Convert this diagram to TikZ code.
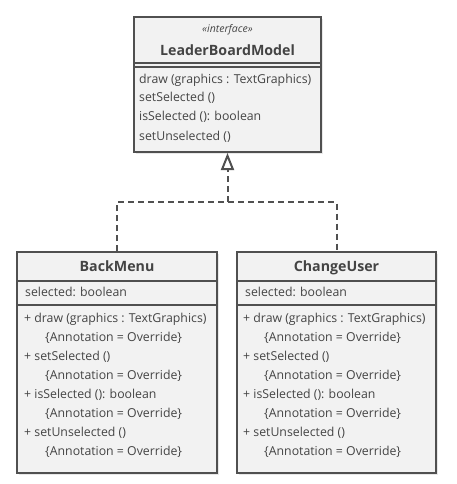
\documentclass[tikz,border=0pt]{standalone}
\usepackage{fontspec}
\setmainfont{Open Sans}
\usetikzlibrary{arrows.meta,shadows}
\definecolor{boxfill}{HTML}{F2F2F2}
\definecolor{boxline}{HTML}{505050}
\definecolor{txt}{HTML}{444444}
\newcommand\mfont{\fontsize{12.3}{14}\selectfont}
\newcommand\sfont{\fontsize{10.5}{12}\selectfont}
\newcommand\bfont{\fontsize{14.2}{16}\selectfont\bfseries}
\begin{document}
\begin{tikzpicture}[x=1pt,y=-1pt,
  umlbox/.style={draw=boxline, line width=2pt, fill=boxfill, rectangle, inner sep=0pt,
    drop shadow={opacity=0.18, shadow xshift=2pt, shadow yshift=-2pt}},
  sep/.style={draw=boxline, line width=1.6pt},
  t/.style={anchor=base west, inner sep=0pt, text=txt, font=\mfont},
  ttl/.style={anchor=base, inner sep=0pt, text=txt, font=\bfont},
  dep/.style={draw=boxline, line width=2pt, dash pattern=on 6pt off 4pt}]
\useasboundingbox (0,0) rectangle (456,484);
% boxes
\node[umlbox, minimum width=187pt, minimum height=135pt] (iface) at (227.5,84.5) {};
\node[umlbox, minimum width=200pt, minimum height=221pt] (back) at (117,362.5) {};
\node[umlbox, minimum width=199pt, minimum height=221pt] (change) at (336.5,362.5) {};
% interface compartments
\draw[sep] (iface.west |- 0,63) -- (iface.east |- 0,63);
\draw[sep] (iface.west |- 0,67) -- (iface.east |- 0,67);
\node[anchor=base, inner sep=0pt, text=txt, font=\sfont\itshape] (stereo) at (227.5,33) {«interface»};
\node[ttl] (ifname) at (227.5,55.5) {LeaderBoardModel};
\node[t] (im1) at (139,83.5) {draw (graphics : TextGraphics)};
\node[t] (im2) at (139,102) {setSelected ()};
\node[t] (im3) at (139,121) {isSelected (): boolean};
\node[t] (im4) at (139,140) {setUnselected ()};
% BackMenu
\draw[sep] (back.west |- 0,281) -- (back.east |- 0,281);
\draw[sep] (back.west |- 0,305) -- (back.east |- 0,305);
\node[ttl] (bname) at (117,271) {BackMenu};
\node[t] (ba) at (25,296.5) {selected: boolean};
\node[t] (bm1) at (24,322) {+ draw (graphics : TextGraphics)};
\node[t] (bn1) at (45,341) {\{Annotation = Override\}};
\node[t] (bm2) at (24,360) {+ setSelected ()};
\node[t] (bn2) at (45,379) {\{Annotation = Override\}};
\node[t] (bm3) at (24,398) {+ isSelected (): boolean};
\node[t] (bn3) at (45,417) {\{Annotation = Override\}};
\node[t] (bm4) at (24,436) {+ setUnselected ()};
\node[t] (bn4) at (45,455) {\{Annotation = Override\}};
% ChangeUser
\draw[sep] (change.west |- 0,281) -- (change.east |- 0,281);
\draw[sep] (change.west |- 0,305) -- (change.east |- 0,305);
\node[ttl] (cname) at (336.5,271) {ChangeUser};
\node[t] (ca) at (245,296.5) {selected: boolean};
\node[t] (cm1) at (243,322) {+ draw (graphics : TextGraphics)};
\node[t] (cn1) at (264,341) {\{Annotation = Override\}};
\node[t] (cm2) at (243,360) {+ setSelected ()};
\node[t] (cn2) at (264,379) {\{Annotation = Override\}};
\node[t] (cm3) at (243,398) {+ isSelected (): boolean};
\node[t] (cn3) at (264,417) {\{Annotation = Override\}};
\node[t] (cm4) at (243,436) {+ setUnselected ()};
\node[t] (cn4) at (264,455) {\{Annotation = Override\}};
% realization
\coordinate (j) at (227.5,202);
\draw[dep] (back.north) |- (j) -| (change.north);
\draw[dep, -{Triangle[open, width=13pt, length=17pt]}] (j) -- (iface.south);
\end{tikzpicture}
\end{document}
